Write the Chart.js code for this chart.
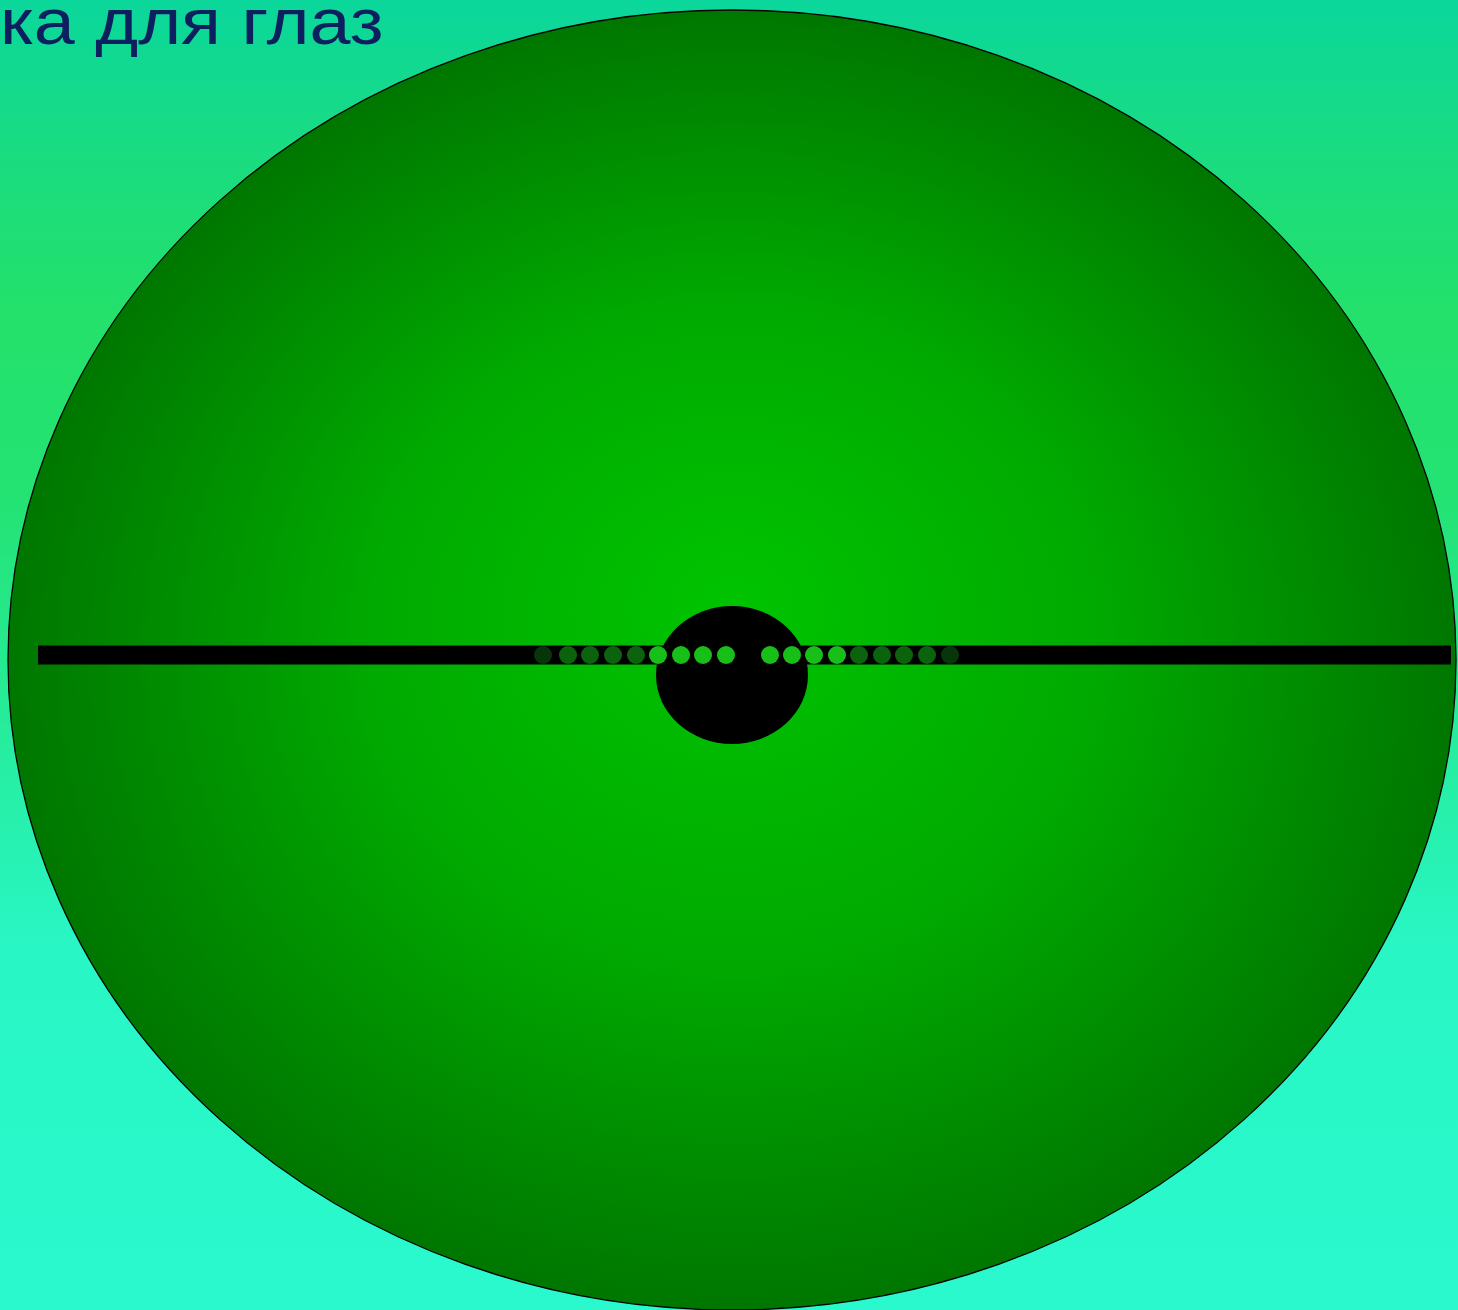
<!DOCTYPE html>
<html>
<head>
<meta charset="utf-8">
<script src="https://cdn.jsdelivr.net/npm/chart.js@4"></script>
<style>
  html, body { margin: 0; padding: 0; overflow: hidden; }
  body {
    width: 1458px; height: 1310px;
    background: linear-gradient(to bottom, #0bd79c 0%, #1adc80 12%, #23e16a 24%, #24e374 38%, #26ec9a 55%, #28f6c4 72%, #29f9cd 100%);
  }
  .wrap { position: relative; width: 1458px; height: 1310px; }
  .title {
    position: absolute; left: 0; top: -15px;
    font-family: "Liberation Sans", Arial, sans-serif; font-size: 64px;
    color: #0c1f5e; white-space: nowrap; z-index: 2;
    transform: scaleX(1.15); transform-origin: left top;
  }
</style>
</head>
<body>
<div class="wrap">
  <div class="title">ка для глаз</div>
  <canvas id="eye"></canvas>
</div>
<script>
// eyeball and pupil (center x, center y, radius x, radius y)
const eyeball = [732, 660, 724, 650];
const pupil = [732, 675, 76, 69];
// black line across the eye
const lineX = [38, 1451];
const lineY = [655, 655];
// dots along the line and how bright each one is (0 faint, 1 dim, 2 bright)
const dotX = [543, 568, 590, 613, 636, 658, 681, 703, 726, 770, 792, 814, 837, 859, 882, 904, 927, 950];
const dotLevel = [0, 1, 1, 1, 1, 2, 2, 2, 2, 2, 2, 2, 2, 1, 1, 1, 1, 0];
const levelColors = ['#07360a', '#0b640d', '#18bf18'];

// draw the eyeball and pupil before the datasets
const eyePlugin = {
  id: 'eye',
  beforeDatasetsDraw(chart) {
    const { ctx, scales: { x, y } } = chart;
    const ellipse = ([cx, cy, rx, ry]) => {
      const px = x.getPixelForValue(cx), py = y.getPixelForValue(cy);
      const prx = Math.abs(x.getPixelForValue(cx + rx) - px);
      const pry = Math.abs(y.getPixelForValue(cy + ry) - py);
      return { px, py, prx, pry };
    };
    // big green ellipse with radial gradient
    const e = ellipse(eyeball);
    ctx.save();
    ctx.translate(e.px, e.py);
    ctx.scale(1, e.pry / e.prx);
    const grad = ctx.createRadialGradient(0, -60, 0, 0, 0, e.prx);
    grad.addColorStop(0, '#00c400');
    grad.addColorStop(0.5, '#00aa00');
    grad.addColorStop(1, '#007700');
    ctx.beginPath();
    ctx.arc(0, 0, e.prx, 0, Math.PI * 2);
    ctx.fillStyle = grad;
    ctx.fill();
    ctx.restore();
    ctx.save();
    ctx.beginPath();
    ctx.ellipse(e.px, e.py, e.prx, e.pry, 0, 0, Math.PI * 2);
    ctx.lineWidth = 1.3;
    ctx.strokeStyle = '#000';
    ctx.stroke();
    // pupil
    const p = ellipse(pupil);
    ctx.beginPath();
    ctx.ellipse(p.px, p.py, p.prx, p.pry, 0, 0, Math.PI * 2);
    ctx.fillStyle = '#000';
    ctx.fill();
    ctx.restore();
  }
};

const eyeChart = new Chart(document.getElementById('eye'), {
  type: 'scatter',
  data: {
    datasets: [
      {
        data: dotX.map(v => ({ x: v, y: lineY[0] })),
        pointBackgroundColor: dotLevel.map(l => levelColors[l]),
        pointBorderWidth: 0,
        pointRadius: 9,
        pointHoverRadius: 9,
      },
      {
        type: 'line',
        data: lineX.map((v, i) => ({ x: v, y: lineY[i] })),
        borderColor: '#000',
        borderWidth: 19,
        borderCapStyle: 'butt',
        pointRadius: 0,
      },
    ]
  },
  options: {
    responsive: true,
    maintainAspectRatio: false,
    animation: false,
    layout: { padding: 0, autoPadding: false },
    plugins: {
      legend: { display: false },
      title: { display: false },
      tooltip: { enabled: false },
    },
    scales: {
      x: { type: 'linear', min: 0, max: 1458, display: false },
      y: { type: 'linear', min: 0, max: 1310, reverse: true, display: false },
    },
  },
  plugins: [eyePlugin],
});
</script>
</body>
</html>
